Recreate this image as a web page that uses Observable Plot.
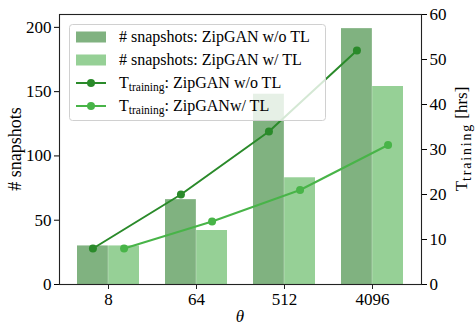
<!DOCTYPE html>
<html>
<head>
<meta charset="utf-8">
<script src="https://cdn.jsdelivr.net/npm/d3@7"></script>
<script src="https://cdn.jsdelivr.net/npm/@observablehq/plot@0.6"></script>
<style>
  html, body { margin: 0; padding: 0; background: #fff; }
  #chart { position: relative; width: 476px; height: 335px; }
</style>
</head>
<body>
<div id="chart"></div>
<script>
// ---- data ----
const thetas = ["8", "64", "512", "4096"];
const snapshotsWoTL = [30, 66, 148, 199];
const snapshotsWTL = [30, 42, 83, 154];
const trainingWoTL = [8, 20, 34, 52];
const trainingWTL = [8, 14, 21, 31];
const leftTicks = [0, 50, 100, 150, 200];
const rightTicks = [0, 10, 20, 30, 40, 50, 60];
const seriesNames = [
  "# snapshots: ZipGAN w/o TL",
  "# snapshots: ZipGAN w/ TL",
  ": ZipGAN w/o TL",
  ": ZipGANw/ TL"
];

// ---- styles ----
const darkBar = "#80b280";
const lightBar = "#96d096";
const darkLine = "#2a8a2a";
const lightLine = "#48b448";
const font = "'Liberation Serif', 'DejaVu Serif', serif";

const yMax = 210, hMax = 60, k = yMax / hMax;
const rows = thetas.map((t, i) => ({
  theta: t,
  sWo: snapshotsWoTL[i], sW: snapshotsWTL[i],
  tWo: trainingWoTL[i], tW: trainingWTL[i]
}));

const W = 476, H = 335;
const mL = 59, mR = 55, mT = 14, mB = 51;
const pInner = 0.3, pOuter = 0.184;
const step = (W - mL - mR) / (thetas.length - pInner + 2 * pOuter);
const half = step * (1 - pInner) / 2;

const plot = Plot.plot({
  width: W, height: H,
  marginLeft: mL, marginRight: mR, marginTop: mT, marginBottom: mB,
  style: { fontFamily: font, fontSize: "17px", color: "#000", background: "#fff" },
  x: { type: "band", domain: thetas, paddingInner: pInner, paddingOuter: pOuter, label: null },
  y: { domain: [0, yMax], label: null },
  marks: [
    Plot.barY(rows, { x: "theta", y: "sWo", fill: darkBar, insetLeft: 0, insetRight: half }),
    Plot.barY(rows, { x: "theta", y: "sW", fill: lightBar, insetLeft: half, insetRight: 0 }),
    Plot.line(rows, { x: "theta", y: d => d.tWo * k, dx: -half / 2, stroke: darkLine, strokeWidth: 2 }),
    Plot.dot(rows, { x: "theta", y: d => d.tWo * k, dx: -half / 2, r: 4, fill: darkLine }),
    Plot.line(rows, { x: "theta", y: d => d.tW * k, dx: half / 2, stroke: lightLine, strokeWidth: 2 }),
    Plot.dot(rows, { x: "theta", y: d => d.tW * k, dx: half / 2, r: 4, fill: lightLine }),
    Plot.axisX({ tickSize: 5, tickPadding: 3, fontSize: 17, label: null, stroke: "#222" }),
    Plot.axisY({ anchor: "left", ticks: leftTicks, tickSize: 5, tickPadding: 3, fontSize: 17, label: null }),
    Plot.axisY({ anchor: "right", ticks: rightTicks.map(v => v * k), tickFormat: d => Math.round(d / k),
                 tickSize: 5, tickPadding: 3, fontSize: 17, label: null }),
    Plot.frame({ stroke: "#222", strokeWidth: 1.1 })
  ]
});

const chart = document.getElementById("chart");
chart.appendChild(plot);

const svg = d3.select(plot);
const cx = mL + (W - mL - mR) / 2;
const cy = mT + (H - mT - mB) / 2;

// Axis labels
svg.append("text")
  .attr("transform", `translate(21,${cy}) rotate(-90)`)
  .attr("text-anchor", "middle")
  .attr("font-family", font).attr("font-size", 18)
  .text("# snapshots");

const rl = svg.append("text")
  .attr("transform", `translate(467,139) rotate(-90)`)
  .attr("text-anchor", "middle")
  .attr("font-family", font).attr("font-size", 17);
rl.append("tspan").text("T");
rl.append("tspan").attr("font-size", 14).attr("letter-spacing", 1.8).attr("dy", 4).text("training");
rl.append("tspan").attr("dy", -4).text(" [hrs]");

svg.append("text")
  .attr("x", cx).attr("y", 322)
  .attr("text-anchor", "middle")
  .attr("font-family", font).attr("font-size", 17).attr("font-style", "italic")
  .text("θ");

// Legend (drawn on top, semi-transparent box)
const lg = svg.append("g").attr("font-family", font).attr("font-size", 16).attr("text-anchor", "start");
lg.append("rect")
  .attr("x", 69.5).attr("y", 24.5).attr("width", 256).attr("height", 96)
  .attr("rx", 3).attr("fill", "rgba(255,255,255,0.8)").attr("stroke", "#d0d0d0");
const rowY = [37, 60, 83, 106];
const colors = [darkBar, lightBar, darkLine, lightLine];
seriesNames.forEach((name, i) => {
  const y = rowY[i];
  if (i < 2) {
    lg.append("rect").attr("x", 76).attr("y", y - 5.5).attr("width", 30).attr("height", 11).attr("fill", colors[i]);
    lg.append("text").attr("x", 119).attr("y", y + 5).attr("text-anchor", "start").text(name);
  } else {
    lg.append("line").attr("x1", 76).attr("x2", 106).attr("y1", y).attr("y2", y)
      .attr("stroke", colors[i]).attr("stroke-width", 2);
    lg.append("circle").attr("cx", 91).attr("cy", y).attr("r", 4).attr("fill", colors[i]);
    const t = lg.append("text").attr("x", 119).attr("y", y + 5).attr("text-anchor", "start");
    t.append("tspan").text("T");
    t.append("tspan").attr("font-size", 11.5).attr("dy", 3).text("training");
    t.append("tspan").attr("dy", -3).text(name);
  }
});
</script>
</body>
</html>
